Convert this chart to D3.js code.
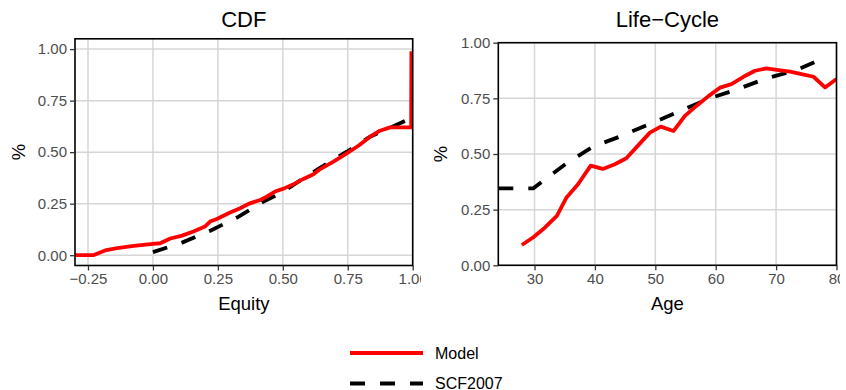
<!DOCTYPE html>
<html>
<head>
<meta charset="utf-8">
<script src="https://cdn.jsdelivr.net/npm/d3@7"></script>
<style>
  body { margin: 0; background: #fff; }
  text { font-family: "Liberation Sans", Arial, sans-serif; }
</style>
</head>
<body>
<div id="chart"></div>
<script>
'use strict';

// CDF panel: equity share distribution
const cdfModelX = [-0.3, -0.23, -0.184, -0.138, -0.074, 0.0, 0.028, 0.067, 0.112, 0.156, 0.2, 0.22, 0.246, 0.297, 0.336, 0.368, 0.413, 0.438, 0.47, 0.503, 0.541, 0.579, 0.618, 0.644, 0.695, 0.746, 0.791, 0.836, 0.874, 0.913, 0.994, 0.995];
const cdfModelY = [0.0, 0.0, 0.023, 0.034, 0.045, 0.055, 0.058, 0.081, 0.095, 0.115, 0.139, 0.163, 0.176, 0.207, 0.228, 0.249, 0.268, 0.284, 0.309, 0.323, 0.344, 0.37, 0.393, 0.418, 0.454, 0.494, 0.531, 0.575, 0.604, 0.62, 0.62, 0.99];
const cdfScfX = [0.0, 0.112, 0.223, 0.33, 0.426, 0.49, 0.631, 0.746, 0.836, 0.951, 0.995];
const cdfScfY = [0.015, 0.061, 0.12, 0.187, 0.26, 0.3, 0.414, 0.502, 0.575, 0.64, 0.666];

// Life-cycle panel: equity share by age
const lcAge = [27.9, 29.8, 31.7, 33.7, 35.3, 37.2, 39.3, 41.3, 43.3, 45.2, 47.2, 49.1, 50.9, 53.0, 54.9, 56.8, 58.8, 60.7, 62.6, 64.6, 66.5, 68.4, 70.4, 72.3, 74.2, 76.2, 78.1, 80.0];
const lcModel = [0.091, 0.126, 0.169, 0.222, 0.305, 0.364, 0.448, 0.433, 0.454, 0.481, 0.54, 0.596, 0.623, 0.603, 0.671, 0.716, 0.76, 0.798, 0.814, 0.847, 0.874, 0.885, 0.877, 0.87, 0.859, 0.847, 0.799, 0.837];
const lcScfAge = [24, 29.8, 35.3, 39.7, 44.1, 49.1, 54.1, 59.0, 63.5, 68.4, 73.4, 77.8];
const lcScf = [0.346, 0.346, 0.458, 0.533, 0.578, 0.635, 0.693, 0.75, 0.79, 0.84, 0.877, 0.93];

const cdfXTicks = [-0.25, 0, 0.25, 0.5, 0.75, 1];
const lcXTicks = [30, 40, 50, 60, 70, 80];
const yTicks = [0, 0.25, 0.5, 0.75, 1];

const seriesNames = ['Model', 'SCF2007'];

const W = 846, H = 390;
const RED = '#ff0000';
const LW = 3.8;
const DASH = '15,15';

var svg = d3.select('#chart').append('svg')
    .attr('width', W).attr('height', H);

var defs = svg.append('defs');
defs.append('clipPath').attr('id', 'leftclip')
    .append('rect').attr('x', 0).attr('y', 0).attr('width', 421).attr('height', H);
defs.append('clipPath').attr('id', 'rightclip')
    .append('rect').attr('x', 421).attr('y', 0).attr('width', 419).attr('height', H);

function panel(opts) {
    var g = svg.append('g');
    if (opts.clip) g.attr('clip-path', 'url(#' + opts.clip + ')');

    var x = d3.scaleLinear().domain(opts.xDomain).range([opts.left, opts.right]);
    var y = d3.scaleLinear().domain(opts.yDomain).range([opts.bottom, opts.top]);
    var cid = 'pc' + opts.id;
    defs.append('clipPath').attr('id', cid)
        .append('rect')
        .attr('x', opts.left).attr('y', opts.top)
        .attr('width', opts.right - opts.left).attr('height', opts.bottom - opts.top);

    // grid
    var grid = g.append('g');
    grid.selectAll('.gx').data(opts.xTicks).enter().append('line')
        .attr('x1', d => x(d)).attr('x2', d => x(d))
        .attr('y1', opts.top).attr('y2', opts.bottom)
        .attr('stroke', '#d6d6d6').attr('stroke-width', 1.5);
    grid.selectAll('.gy').data(yTicks).enter().append('line')
        .attr('y1', d => y(d)).attr('y2', d => y(d))
        .attr('x1', opts.left).attr('x2', opts.right)
        .attr('stroke', '#d6d6d6').attr('stroke-width', 1.5);

    // lines
    var line = d3.line().x(d => x(d[0])).y(d => y(d[1]));
    var data = g.append('g').attr('clip-path', 'url(#' + cid + ')');
    data.append('path')
        .attr('d', line(d3.zip(opts.scfX, opts.scfY)))
        .attr('fill', 'none').attr('stroke', '#000')
        .attr('stroke-width', LW).attr('stroke-dasharray', DASH);
    data.append('path')
        .attr('d', line(d3.zip(opts.modelX, opts.modelY)))
        .attr('fill', 'none').attr('stroke', RED)
        .attr('stroke-width', LW).attr('stroke-linejoin', 'round');

    // border
    g.append('rect')
        .attr('x', opts.left).attr('y', opts.top)
        .attr('width', opts.right - opts.left).attr('height', opts.bottom - opts.top)
        .attr('fill', 'none').attr('stroke', '#000').attr('stroke-width', 1.6);

    // axes
    var ax = g.append('g').attr('transform', 'translate(0,' + opts.bottom + ')')
        .call(d3.axisBottom(x).tickValues(opts.xTicks).tickFormat(opts.xFormat)
            .tickSizeInner(5).tickSizeOuter(0).tickPadding(3));
    var ay = g.append('g').attr('transform', 'translate(' + opts.left + ',0)')
        .call(d3.axisLeft(y).tickValues(yTicks).tickFormat(d3.format('.2f'))
            .tickSizeInner(5).tickSizeOuter(0).tickPadding(3));
    [ax, ay].forEach(function(a) {
        a.select('.domain').remove();
        a.selectAll('.tick line').attr('stroke', '#333').attr('stroke-width', 1.3);
        a.selectAll('.tick text').attr('fill', '#4d4d4d')
            .style('font-size', '15px').style('font-family', '"Liberation Sans", Arial, sans-serif');
    });

    var cx = (opts.left + opts.right) / 2;
    g.append('text').attr('x', cx).attr('y', 27)
        .attr('text-anchor', 'middle').style('font-size', '22px')
        .text(opts.title);
    g.append('text').attr('x', cx).attr('y', 310)
        .attr('text-anchor', 'middle').style('font-size', '18.5px')
        .text(opts.xLabel);
    g.append('text')
        .attr('transform', 'translate(' + opts.yLabX + ',' + ((opts.top + opts.bottom) / 2) + ') rotate(-90)')
        .attr('text-anchor', 'middle').attr('dy', '0.35em').style('font-size', '18.5px')
        .text('%');
}

panel({
    id: 'L', clip: 'leftclip',
    left: 75, right: 412.7, top: 38.8, bottom: 265.5,
    xDomain: [-0.3, 1.0], yDomain: [-0.05, 1.05],
    xTicks: cdfXTicks, xFormat: d3.format('.2f'),
    modelX: cdfModelX, modelY: cdfModelY, scfX: cdfScfX, scfY: cdfScfY,
    title: 'CDF', xLabel: 'Equity', yLabX: 19
});

panel({
    id: 'R', clip: 'rightclip',
    left: 498.3, right: 836.5, top: 42.7, bottom: 265.3,
    xDomain: [24, 80], yDomain: [0, 1],
    xTicks: lcXTicks, xFormat: d3.format('d'),
    modelX: lcAge, modelY: lcModel, scfX: lcScfAge, scfY: lcScf,
    title: 'Life\u2212Cycle', xLabel: 'Age', yLabX: 441
});

// legend
var legend = svg.append('g');
var items = legend.selectAll('g').data(seriesNames).enter().append('g')
    .attr('transform', (d, i) => 'translate(350,' + (353 + i * 30.5) + ')');
items.append('line')
    .attr('x1', 0).attr('x2', 73).attr('y1', 0).attr('y2', 0)
    .attr('stroke', (d, i) => i === 0 ? RED : '#000')
    .attr('stroke-width', LW)
    .attr('stroke-dasharray', (d, i) => i === 0 ? null : DASH);
items.append('text')
    .attr('x', 85).attr('dy', '0.36em')
    .style('font-size', '16px')
    .text(d => d);
</script>
</body>
</html>
